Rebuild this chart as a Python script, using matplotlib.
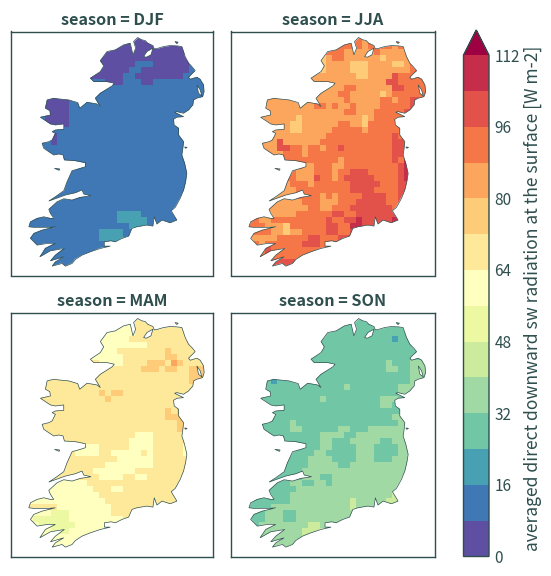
import matplotlib
matplotlib.use('Agg')
import matplotlib.pyplot as plt
from matplotlib.colors import BoundaryNorm
from matplotlib.patches import PathPatch, Polygon
from matplotlib.path import Path
import numpy as np

plt.rcParams['font.family'] = ['Noto Sans CJK SC', 'DejaVu Sans']

SLATE = '#2f4f4f'

# bin index per grid cell, 0-e = 0-8, 8-16 ... 104-112, >112
DJF = [
    '111111111111111110000111111111',
    '111111111111100000000000001111',
    '111111111111000000000000000111',
    '111111111111000000000000000111',
    '111111111111000000111000000111',
    '111111111111000001100000000111',
    '111111111100000011000000001111',
    '111111111111100011100111111111',
    '111111111111111111111111111111',
    '111111111111111111111111111111',
    '111000011111111111111111111111',
    '111000011111111111111111111111',
    '111000011111111111111111111111',
    '111000011111111111111111111111',
    '111000011111111111111111111111',
    '111111111111111111111111111111',
    '111101111111111111111111111111',
    '111101111111111111111111111111',
    '111111111111111111111111111111',
    '111111111111111111111111111111',
    '111111111111111111111111111111',
    '111111111111111111111111111111',
    '111111111111111111111111111111',
    '111111111111111111111111111111',
    '111111111111111111111111111111',
    '111111111111111111111111111111',
    '111111111111111111111111111111',
    '111111111111111111111111111111',
    '111111111111111111111111111111',
    '111111111111111222211111111111',
    '111111111111111222221111111111',
    '111111111111111112221111111111',
    '111111111111222211111111111111',
    '111111111111222211111111111111',
    '111111111111111111111111111111',
    '111111111111111111111111111111',
    '111111111111111111111111111111',
    '111111111111111111111111111111',
    '111111111111111111111111111111',
]
JJA = [
    'bbbbbbbbbbbbbbbbbbbabbbbbbbbbb',
    'aaaaaaaaaaaaaaabbbbabbbbabbbaa',
    'aaaaaaaaaaaaabbbaaaaabaaaaaaaa',
    'aaaaaaaaaaaa9abbaaaaaa9aaaabbb',
    'aaaaaaaaaaaa9aaaa999aaaa99abbb',
    'aaaaaaaaaaa99aaaa999aaaaaaabbb',
    'aaaaaaaaaaaaaaaaaa99aaaacbbbbb',
    'aaaaaaaaaaaaaaaaaaaaaaaccbbbbb',
    'aaaaaaaaaaaaaaaabbaaaaaaccbbbb',
    'aaaaaaaaaaaaaaabbaaaaa9abbbbbb',
    'aaaaaaaaaaaaaaaabaaaaabbabbccc',
    'aaaaaaaaaaabbabaabaaaabbbbbccc',
    'aaaaaaaaaaaaaaaabbaaabbbbbcccc',
    'aaaaaaaa9aaaaaaaaaa9abbbbbbccc',
    'aaaaaaa99aaaaaabbaa9bbbbbbbbbb',
    'aaaaaaa99aaaaabbbbbabbbbbbbbbb',
    'aaaaaaaaaaaaabbbbbbbbbbbcbbbbb',
    'aaaaacaaaaaabbbbbbbbbbbbccbbbb',
    'aaaaaccbbabbabbcbbbbbbbbcccbbb',
    'aaaaaabbbabbbbbbbbbbbbbbccccbb',
    'aaaaaabbbbbbbbbabbbbbbbbcbdddd',
    'aaaaaabbbaabbbaabbbbbbbbbcdddd',
    'aaaaaabbaaabbbabbcccbbbbbcdddd',
    'aaaaaabbaaacbbabcccccbbbbcdddd',
    'aaaaaaabbbabbbbbbcccccbbbccddd',
    'aaaaaaaabbbbbbbbbccccbbbbccddd',
    'aaaaaaaabbbbababbbbccccbbccddd',
    'aaaaaaaaabbbaaabbbcccccbbcdddd',
    'bbbaaaaaaabbaabbbcccccccbcdddd',
    'bbbaaaaabbbbbbccbbcccccccccddd',
    'bbaabbbbbbbbbcbbccdcccccdddddd',
    'bbbaaa9bbbbbbccbbddcccccdeeeee',
    'bbbbaa9aabbbbccbbcdddddddddddd',
    'aaaaabbbbbccbbbccccccccccccccc',
    'bbabbbbbbcccbbcccccccccccccccc',
    'bbbcbbbbbbbbbbbbcccccccccccccc',
    'bbbcbbbbbbbbbbbbbbbbbbbbbbbbbb',
    'bbbbccccbbbbbbbbbbbbbbbbbbbbbb',
    'bbbbbbbbbbbbbbbbbbbbbbbbbbbbbb',
]
MAM = [
    '777777777777777777888888888888',
    '777777777777777777888888888888',
    '777777777777777777888888888888',
    '777777777777777778888888888888',
    '777777777777777777778888888888',
    '777777777777777888888889888888',
    '777777777777777788888889988888',
    '888888888888777788889998a98888',
    '888888888888888888899989988999',
    '888888888888888888888888888999',
    '888888888888888888888888888999',
    '888888888888888888888888888899',
    '888888888888989988888888888889',
    '888888888888898888888888889999',
    '888888888888888888888888888888',
    '888888888888888888888889899988',
    '888888888888888888888889999988',
    '888888888888888888888888899998',
    '888888888888888888888888899998',
    '888888888888888888777888888888',
    '888888888888888887777888888888',
    '888888888777888887777888887778',
    '888888887777887777787888887788',
    '888888888888888777777888888778',
    '888888888888877777777888888888',
    '888888888887777777888888888888',
    '888888888888777788778888888888',
    '777777777788888888888888888888',
    '777777777778887788888888888888',
    '777777777777888888888888888899',
    '777777777777788888888888888999',
    '888887777777778888888888888888',
    '777766677777778888888888888888',
    '766666677777777788888888888888',
    '776666667777777888888888888888',
    '777766677777778888888888888888',
    '777777777777777777777777777777',
    '777777777777777777777777777777',
    '777777777777777777777777777777',
]
SON = [
    '333333333333333333333333333333',
    '333333333333333333333333333333',
    '333333333333333333333333333333',
    '333333333333333333333333233333',
    '333333333333333333333333333333',
    '333333333333333333333333333333',
    '333333333333333333333333333333',
    '333333333333333333333334333444',
    '333333333333333333333334433444',
    '333333333333333333333333333444',
    '333323333333333333333333333444',
    '333333333333333343333333344444',
    '333333333333333333333333344333',
    '333333333333433333333344434433',
    '333333333333333333333344333333',
    '333333333333333333333333333333',
    '333333333333333333333333443333',
    '333333343333333333333333344444',
    '333333344333333443334444444444',
    '333333333333444433444444444444',
    '333333333333443334444433444444',
    '333333333333443333444333344444',
    '333333333334433333444333344444',
    '333333333344443333444333444444',
    '333333333344444334444444444444',
    '333333333444444444444444444444',
    '333333333444334444444444444444',
    '333333344334434444444444444444',
    '333333334444444444444444444444',
    '333333344444444444444444544444',
    '333333344444444445444445554444',
    '333344444444444445444444444444',
    '333444334444444444444444444444',
    '333444334444444444444444444444',
    '334444444455444444444444444444',
    '344444444555544444444444444444',
    '444444444555444444444444444444',
    '444444445554444444444444444444',
    '444444444444444444444444444444',
]
seasons = ['DJF', 'JJA', 'MAM', 'SON']
season_rows = [DJF, JJA, MAM, SON]
bin_chars = '0123456789abcde'

levels = np.arange(0, 113, 8)
cbar_ticks = [0, 16, 32, 48, 64, 80, 96, 112]
cbar_label = 'averaged direct downward sw radiation at the surface [W m-2]'

# outline, in map units
coast = [
    (412, 113), (425, 120), (435, 122), (442, 130), (458, 137), (462, 147), (470, 146), (490, 140),
    (510, 137), (530, 138), (545, 140), (550, 155), (555, 170), (565, 190), (575, 200), (585, 212),
    (575, 222), (565, 232), (570, 238), (590, 232), (600, 238), (610, 255), (612, 275), (607, 290),
    (590, 295), (580, 300), (578, 315), (565, 330), (550, 340), (530, 335), (523, 337), (550, 350),
    (530, 352), (520, 358), (522, 375), (535, 385), (535, 405), (550, 425), (548, 445), (545, 465),
    (553, 490), (560, 520), (556, 545), (550, 570), (540, 595), (525, 622), (513, 632), (530, 660),
    (510, 668), (485, 660), (470, 672), (462, 650), (458, 678), (440, 675), (410, 680), (395, 685),
    (385, 708), (365, 715), (345, 725), (332, 722), (312, 725), (312, 738), (330, 738), (300, 745),
    (270, 755), (245, 765), (225, 778), (215, 790), (195, 798), (185, 790), (155, 798), (165, 785),
    (190, 770), (150, 782), (165, 765), (192, 745), (150, 752), (118, 770), (135, 745), (165, 730),
    (140, 730), (110, 735), (90, 715), (100, 700), (125, 690), (165, 680), (145, 682), (100, 682),
    (85, 680), (90, 665), (110, 655), (130, 650), (150, 655), (160, 655), (150, 640), (145, 628),
    (170, 605), (190, 596), (215, 600), (240, 592), (272, 587), (250, 582), (245, 570), (225, 578),
    (195, 585), (145, 603), (165, 590), (190, 572), (200, 545), (215, 512), (240, 505), (255, 500),
    (255, 488), (225, 482), (192, 480), (188, 465), (175, 462), (160, 465), (145, 455), (130, 445),
    (125, 430), (145, 425), (155, 420), (165, 400), (155, 395), (165, 390), (190, 388), (190, 372),
    (165, 375), (150, 372), (120, 352), (150, 345), (148, 332), (135, 325), (140, 300), (160, 295),
    (175, 297), (205, 300), (232, 308), (238, 325), (260, 307), (290, 312), (300, 320), (285, 295),
    (300, 280), (335, 258), (342, 250), (320, 245), (280, 245), (270, 235), (300, 215), (310, 198),
    (300, 182), (320, 155), (345, 150), (370, 135), (390, 130), (398, 165), (406, 145), (400, 125),
]
foyle = [(430, 170), (440, 155), (458, 145), (452, 165), (438, 172)]
strangford = [(590, 255), (600, 270), (605, 288), (595, 280)]
rathlin = [(524, 125), (534, 127), (530, 131)]
aran = [(162, 505), (178, 507), (176, 511)]
dalkey = [(553, 441), (561, 442), (556, 445)]

n_rows = len(DJF)
n_cols = len(DJF[0])
x_edges = 80 + 18 * np.arange(n_cols + 1)
y_edges = 110 + 18 * np.arange(n_rows + 1)


def to_values(rows):
    return np.array([[(bin_chars.index(ch) + 0.5) * 8 for ch in row] for row in rows])


def land_path():
    verts = []
    codes = []
    for pts in [coast, rathlin, aran, dalkey]:
        verts += pts + [pts[0]]
        codes += [Path.MOVETO] + [Path.LINETO] * (len(pts) - 1) + [Path.CLOSEPOLY]
    return Path(verts, codes)


W, H = 551, 576
fig = plt.figure(figsize=(W / 100, H / 100), dpi=100)

cmap = plt.get_cmap('Spectral_r', 15)
norm = BoundaryNorm(levels, cmap.N, extend='max')

boxes = [(10.5, 31.5, 203, 244), (230.5, 31.5, 204.5, 244), (10.5, 312.5, 203, 244), (230.5, 312.5, 204.5, 244)]

for name, rows, box in zip(seasons, season_rows, boxes):
    left, top, w, h = box
    ax = fig.add_axes([left / W, 1 - (top + h) / H, w / W, h / H])
    mesh = ax.pcolormesh(x_edges, y_edges, to_values(rows), cmap=cmap, norm=norm)
    path = land_path()
    mesh.set_clip_path(PathPatch(path, transform=ax.transData))
    ax.add_patch(PathPatch(path, fc='none', ec=SLATE, lw=0.5))
    for pts in [foyle, strangford]:
        ax.add_patch(Polygon(pts, fc='white', ec=SLATE, lw=0.5))
    ax.set_xlim(30, 640)
    ax.set_ylim(826, 95)
    ax.set_xticks([])
    ax.set_yticks([])
    for spine in ax.spines.values():
        spine.set_edgecolor(SLATE)
        spine.set_linewidth(1.0)
    ax.set_title('season = ' + name, fontsize=11.7, fontweight='bold', color=SLATE, pad=5)

cax = fig.add_axes([463.5 / W, 1 - 556.5 / H, 25.5 / W, 526.5 / H])
cbar = fig.colorbar(mesh, cax=cax, extend='max', ticks=cbar_ticks, spacing='proportional')
cbar.minorticks_off()
cbar.outline.set_edgecolor(SLATE)
cbar.outline.set_linewidth(1.0)
cbar.ax.tick_params(length=0, pad=4, labelsize=11, labelcolor=SLATE)
fig.text(533 / W, 1 - 298 / H, cbar_label, rotation=90, ha='center', va='center', fontsize=12.6, color=SLATE)

fig.savefig('out.png', dpi=100)
